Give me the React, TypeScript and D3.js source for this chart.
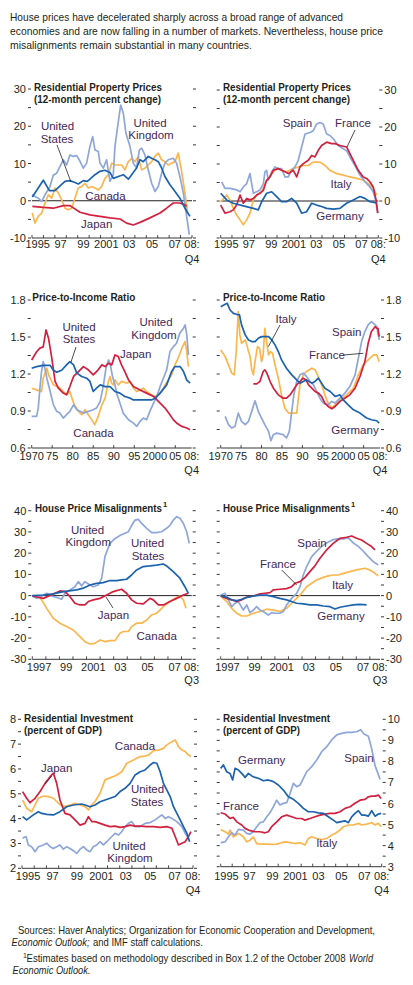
import React from "react";
import * as d3 from "d3";

type Pt = [number, number];

// ---------- Residential property prices (12-month % change) ----------
const rppUnitedStates: Pt[] = [[1995.03,1.0],[1995.99,5.5],[1996.52,2.7],[1997.01,2.7],[1997.45,4.0],[1997.89,5.2],[1998.32,5.4],[1998.76,4.9],[1999.05,4.5],[1999.49,5.4],[1999.84,5.2],[2000.07,5.8],[2000.51,7.0],[2000.95,7.9],[2001.38,8.2],[2001.82,7.6],[2002.11,6.0],[2002.55,6.5],[2002.99,7.0],[2003.43,5.8],[2003.72,7.0],[2004.15,8.8],[2004.45,11.0],[2004.74,10.5],[2005.17,11.9],[2005.47,11.4],[2005.76,11.0],[2006.05,10.5],[2006.34,8.8],[2006.63,6.5],[2007.07,4.3],[2007.51,2.5],[2007.94,0.7],[2008.38,-2.0],[2008.82,-4.2]];
const rppUnitedKingdom: Pt[] = [[1995.0,1.6],[1995.55,0.7],[1995.85,-0.2],[1996.14,1.6],[1996.57,3.8],[1996.87,6.9],[1997.16,7.4],[1997.45,9.2],[1997.74,11.0],[1998.03,9.6],[1998.32,12.3],[1998.62,11.9],[1998.91,12.1],[1999.2,10.6],[1999.49,8.75],[1999.78,10.1],[2000.07,14.6],[2000.31,17.2],[2000.51,13.6],[2000.8,13.2],[2000.95,10.1],[2001.24,8.75],[2001.53,11.0],[2001.82,5.2],[2002.11,7.0],[2002.26,14.6],[2002.55,21.2],[2002.76,25.7],[2002.99,23.5],[2003.22,18.1],[2003.57,14.6],[2003.86,10.1],[2004.15,8.75],[2004.39,13.6],[2004.59,14.1],[2004.88,12.3],[2005.17,8.3],[2005.47,4.7],[2005.76,2.5],[2006.05,3.8],[2006.34,7.4],[2006.63,10.1],[2006.92,11.0],[2007.36,11.4],[2007.65,10.1],[2007.94,6.5],[2008.24,2.1],[2008.53,-4.2],[2008.76,-9.1]];
const rppCanada: Pt[] = [[1995.03,-3.3],[1995.26,-6.0],[1995.55,-4.2],[1995.85,-3.3],[1996.14,-0.6],[1996.43,1.6],[1996.72,0.7],[1997.01,3.4],[1997.3,2.1],[1997.59,0.3],[1997.89,-2.0],[1998.18,-2.4],[1998.47,-2.0],[1998.76,0.7],[1999.05,3.4],[1999.34,3.8],[1999.64,4.7],[1999.93,3.4],[2000.22,3.8],[2000.51,3.4],[2000.8,2.9],[2001.09,3.8],[2001.38,6.0],[2001.68,7.0],[2001.97,10.1],[2002.26,9.6],[2002.55,9.6],[2002.84,9.6],[2003.13,8.3],[2003.43,10.5],[2003.72,11.4],[2004.01,10.5],[2004.3,11.9],[2004.59,8.3],[2004.88,8.75],[2005.17,9.6],[2005.47,10.5],[2005.76,11.9],[2006.05,12.8],[2006.34,11.0],[2006.63,10.5],[2006.92,9.6],[2007.22,10.1],[2007.51,10.5],[2007.8,12.8],[2008.09,7.9],[2008.38,2.1],[2008.62,-3.3]];
const rppJapan: Pt[] = [[1995.03,-1.5],[1995.99,-1.8],[1996.87,-2.0],[1997.74,-1.3],[1998.32,-1.3],[1999.2,-3.1],[2000.07,-3.8],[2000.95,-4.2],[2001.82,-4.6],[2002.7,-4.9],[2003.28,-6.0],[2003.86,-6.5],[2004.45,-5.8],[2005.32,-4.6],[2006.2,-3.3],[2006.78,-2.0],[2007.36,-0.6],[2007.94,-0.6],[2008.38,-1.1],[2008.53,-1.5]];
const rppSpain: Pt[] = [[1995.09,5.2],[1995.38,3.4],[1995.83,3.4],[1996.42,3.0],[1996.72,2.5],[1997.01,3.8],[1997.31,4.7],[1997.6,7.4],[1997.75,4.7],[1997.9,2.1],[1998.2,2.5],[1998.49,3.0],[1998.79,4.7],[1998.93,7.9],[1999.08,8.3],[1999.23,5.6],[1999.53,7.9],[1999.82,9.2],[2000.12,8.75],[2000.41,8.75],[2000.71,6.5],[2001.01,6.5],[2001.3,8.3],[2001.6,9.2],[2001.89,11.0],[2002.19,14.6],[2002.49,18.1],[2002.93,18.5],[2003.22,19.0],[2003.52,20.8],[2003.82,21.2],[2004.11,20.8],[2004.41,18.1],[2004.7,17.7],[2005.0,16.8],[2005.44,15.0],[2005.89,14.1],[2006.18,13.6],[2006.48,11.9],[2006.92,9.6],[2007.37,7.0],[2007.81,5.2],[2008.25,3.8],[2008.55,2.5],[2008.8,-0.2],[2008.95,-3.3]];
const rppFrance: Pt[] = [[1995.0,-1.1],[1995.38,-3.3],[1995.83,-2.9],[1996.12,-2.4],[1996.42,-1.1],[1996.72,1.6],[1997.01,-0.6],[1997.31,0.7],[1997.6,0.3],[1997.9,0.7],[1998.2,1.6],[1998.49,2.1],[1998.79,2.9],[1999.08,5.6],[1999.38,6.5],[1999.67,8.3],[2000.12,8.75],[2000.41,8.3],[2000.71,7.9],[2001.01,7.4],[2001.45,8.3],[2001.75,6.5],[2002.04,9.2],[2002.34,10.1],[2002.78,11.0],[2003.08,12.3],[2003.37,11.9],[2003.67,13.7],[2003.96,15.0],[2004.41,15.9],[2004.85,15.5],[2005.15,15.5],[2005.59,15.0],[2006.18,14.6],[2006.48,12.8],[2006.92,10.1],[2007.22,8.3],[2007.66,6.5],[2007.96,6.1],[2008.25,5.2],[2008.55,3.8],[2008.8,0.3],[2008.95,-3.3]];
const rppItaly: Pt[] = [[1995.0,-0.2],[1995.53,1.6],[1995.83,0.3],[1996.12,-2.0],[1996.42,-3.8],[1996.72,-5.1],[1997.01,-6.4],[1997.31,-5.1],[1997.6,-3.3],[1997.9,0.3],[1998.2,1.6],[1998.64,2.5],[1999.08,5.6],[1999.53,7.4],[1999.97,8.75],[2000.41,8.3],[2000.86,7.9],[2001.45,8.75],[2001.89,9.2],[2002.34,9.6],[2002.78,9.6],[2003.22,10.5],[2003.82,10.5],[2004.26,9.6],[2004.7,8.3],[2005.3,7.4],[2005.89,7.0],[2006.48,6.5],[2007.07,6.1],[2007.66,5.6],[2008.11,4.7],[2008.55,3.4],[2008.85,1.6]];
const rppGermany: Pt[] = [[1995.0,2.1],[1995.53,0.3],[1996.12,-0.6],[1997.01,-1.3],[1997.9,-2.0],[1998.34,-2.4],[1998.64,-0.2],[1999.08,2.1],[1999.53,2.5],[1999.97,1.2],[2000.41,-0.2],[2000.86,-0.2],[2001.3,0.7],[2001.75,-0.6],[2002.19,-3.3],[2002.63,-2.9],[2003.08,-0.6],[2003.52,-1.1],[2003.96,-1.5],[2004.41,-2.0],[2005.0,-2.2],[2005.59,-2.0],[2006.18,-0.6],[2006.78,0.3],[2007.37,1.2],[2007.81,0.7],[2008.25,-0.2],[2008.85,-0.5]];

// ---------- Price-to-income ratio ----------
const ptiUnitedStates: Pt[] = [[1970,1.247],[1971.2,1.26],[1972.8,1.27],[1974.5,1.27],[1975.3,1.23],[1976.1,1.215],[1977.3,1.23],[1978.5,1.274],[1979.3,1.3],[1980.2,1.274],[1981.0,1.207],[1982.2,1.18],[1983.4,1.166],[1984.2,1.14],[1985.0,1.058],[1985.8,1.085],[1986.7,1.112],[1987.9,1.098],[1989.1,1.098],[1990.3,1.058],[1991.5,1.045],[1992.7,1.018],[1994.0,1.004],[1994.8,0.99],[1996.4,0.99],[1998.0,0.99],[1999.2,0.99],[2000.1,1.004],[2001.3,1.045],[2002.9,1.112],[2004.1,1.22],[2004.9,1.26],[2006.2,1.26],[2007.0,1.22],[2007.8,1.15],[2008.6,1.126]];
const ptiJapan: Pt[] = [[1970,1.314],[1971.2,1.38],[1972.0,1.41],[1972.8,1.42],[1973.5,1.557],[1974.1,1.49],[1974.9,1.328],[1975.7,1.14],[1976.5,1.085],[1977.7,1.045],[1978.5,1.031],[1979.3,1.098],[1980.2,1.18],[1981.4,1.22],[1982.6,1.26],[1983.8,1.234],[1985.0,1.193],[1986.2,1.234],[1987.1,1.274],[1987.9,1.26],[1988.7,1.287],[1989.5,1.274],[1990.3,1.355],[1991.1,1.341],[1991.9,1.274],[1992.7,1.22],[1993.6,1.152],[1994.8,1.098],[1996.4,1.071],[1998.0,1.045],[1999.7,1.018],[2001.3,0.964],[2002.5,0.924],[2003.7,0.87],[2004.5,0.83],[2005.3,0.803],[2006.6,0.775],[2007.8,0.762],[2008.6,0.748]];
const ptiUnitedKingdom: Pt[] = [[1970,0.856],[1971.2,0.856],[1971.6,0.924],[1972.0,1.085],[1972.4,1.22],[1972.8,1.301],[1973.2,1.247],[1973.7,1.166],[1974.5,1.058],[1975.3,0.95],[1976.1,0.897],[1976.9,0.883],[1977.7,0.843],[1978.5,0.87],[1979.3,0.897],[1980.2,0.95],[1981.0,0.91],[1981.8,0.897],[1982.6,0.883],[1983.8,0.897],[1985.0,0.91],[1985.8,0.924],[1986.7,0.978],[1987.5,1.112],[1988.1,1.247],[1988.7,1.314],[1989.1,1.287],[1989.7,1.179],[1990.3,1.112],[1990.7,1.045],[1991.5,0.964],[1992.3,0.883],[1993.6,0.829],[1994.8,0.802],[1995.6,0.775],[1996.4,0.816],[1997.2,0.843],[1998.0,0.829],[1998.8,0.897],[1999.7,0.964],[2000.5,1.018],[2001.3,1.098],[2002.1,1.166],[2002.9,1.234],[2003.7,1.382],[2004.5,1.42],[2005.3,1.449],[2006.1,1.53],[2007.0,1.571],[2007.4,1.598],[2007.8,1.517],[2008.2,1.355]];
const ptiCanada: Pt[] = [[1970,1.085],[1971.2,1.071],[1972.4,1.058],[1972.8,1.166],[1973.7,1.247],[1974.1,1.193],[1974.5,1.166],[1975.3,1.112],[1976.1,1.098],[1976.9,1.085],[1977.7,1.058],[1978.5,1.031],[1979.3,1.058],[1980.2,0.964],[1981.4,0.897],[1982.2,0.87],[1983.0,0.91],[1983.8,0.87],[1984.6,0.83],[1985.4,0.789],[1986.2,0.856],[1987.1,0.95],[1987.9,1.004],[1988.7,1.14],[1989.1,1.179],[1989.5,1.125],[1989.9,1.112],[1990.3,1.152],[1991.1,1.112],[1991.9,1.14],[1993.2,1.125],[1994.0,1.14],[1994.8,1.085],[1995.6,1.058],[1996.4,1.071],[1997.2,1.085],[1998.0,1.058],[1999.2,1.031],[2000.1,1.018],[2000.9,1.031],[2001.7,1.058],[2002.5,1.112],[2003.3,1.152],[2004.1,1.193],[2004.9,1.274],[2005.7,1.328],[2006.6,1.409],[2007.4,1.463],[2007.8,1.382],[2008.2,1.26]];
const ptiGermany: Pt[] = [[1970,1.746],[1971.1,1.765],[1971.6,1.773],[1972.3,1.719],[1973.1,1.692],[1973.9,1.684],[1974.6,1.679],[1975.1,1.598],[1976.0,1.517],[1976.8,1.476],[1977.6,1.463],[1978.4,1.463],[1979.2,1.49],[1980.0,1.503],[1980.8,1.503],[1981.7,1.503],[1982.5,1.476],[1983.3,1.436],[1984.1,1.382],[1984.9,1.314],[1986.1,1.247],[1987.4,1.193],[1988.6,1.152],[1989.4,1.126],[1990.2,1.14],[1991.0,1.152],[1992.3,1.126],[1993.1,1.14],[1993.9,1.166],[1994.7,1.126],[1995.5,1.085],[1996.8,1.058],[1998.0,1.018],[1999.2,1.031],[2000.0,0.99],[2001.2,0.95],[2002.5,0.91],[2004.1,0.883],[2005.7,0.843],[2006.9,0.829],[2008.2,0.821],[2008.8,0.802]];
const ptiItaly: Pt[] = [[1970,1.395],[1971.1,1.341],[1971.9,1.274],[1972.7,1.207],[1973.3,1.193],[1973.8,1.382],[1974.3,1.706],[1974.7,1.517],[1975.1,1.449],[1976.0,1.476],[1976.4,1.436],[1976.8,1.382],[1977.2,1.341],[1977.6,1.234],[1978.0,1.193],[1978.4,1.301],[1979.0,1.422],[1979.5,1.409],[1980.0,1.301],[1980.4,1.355],[1980.8,1.57],[1981.3,1.449],[1981.7,1.355],[1982.2,1.382],[1982.7,1.368],[1983.3,1.274],[1984.1,1.166],[1984.9,1.031],[1985.7,0.924],[1986.6,0.883],[1987.4,0.883],[1988.6,0.883],[1989.4,1.112],[1990.2,1.193],[1991.0,1.22],[1992.3,1.247],[1993.1,1.234],[1993.9,1.179],[1994.7,1.112],[1995.5,1.031],[1996.3,0.964],[1997.2,0.924],[1998.0,0.95],[1999.2,0.99],[2000.8,1.031],[2002.5,1.085],[2003.7,1.193],[2004.9,1.274],[2006.1,1.314],[2007.4,1.355],[2008.2,1.355],[2008.8,1.3]];
const ptiFrance: Pt[] = [[1978.0,1.12],[1978.8,1.12],[1979.6,1.139],[1980.4,1.22],[1980.8,1.234],[1981.3,1.207],[1982.1,1.139],[1982.9,1.085],[1984.1,1.031],[1985.3,1.004],[1986.1,1.004],[1987.0,1.031],[1987.8,1.071],[1988.6,1.112],[1989.4,1.139],[1990.2,1.166],[1990.9,1.152],[1991.5,1.112],[1992.3,1.085],[1993.1,1.058],[1993.9,1.045],[1994.7,1.018],[1995.5,0.964],[1996.3,0.937],[1997.2,0.918],[1998.0,0.937],[1999.2,0.978],[2000.4,1.004],[2001.6,1.031],[2002.9,1.085],[2004.1,1.18],[2005.3,1.301],[2006.1,1.449],[2006.9,1.544],[2007.8,1.584],[2008.2,1.571],[2008.5,1.571],[2008.8,1.503]];
const ptiSpain: Pt[] = [[1971.1,0.856],[1971.9,0.789],[1972.7,0.762],[1973.5,0.775],[1974.3,0.883],[1975.1,0.816],[1976.0,0.789],[1976.8,0.816],[1977.6,0.897],[1978.4,0.983],[1979.2,0.897],[1980.0,0.843],[1980.8,0.789],[1981.7,0.735],[1982.3,0.659],[1982.9,0.708],[1983.7,0.721],[1984.5,0.714],[1985.3,0.708],[1986.1,0.681],[1986.8,0.735],[1987.4,0.897],[1987.9,1.031],[1988.6,1.139],[1989.4,1.193],[1990.2,1.207],[1991.0,1.18],[1991.9,1.139],[1992.7,1.112],[1993.5,1.058],[1994.3,1.004],[1995.1,0.964],[1996.3,0.95],[1997.2,0.978],[1998.0,0.964],[1999.2,1.004],[2000.4,1.045],[2001.6,1.098],[2002.9,1.193],[2003.7,1.328],[2004.5,1.463],[2005.3,1.544],[2006.1,1.598],[2006.9,1.625],[2007.8,1.598],[2008.2,1.584],[2008.8,1.476]];

// ---------- House price misalignments ----------
const hpmUnitedKingdom: Pt[] = [[1997.0,-0.2],[1997.32,-1.3],[1997.69,-0.2],[1998.06,1.1],[1998.43,-0.2],[1998.79,-0.8],[1999.16,-1.7],[1999.41,1.1],[1999.78,2.7],[2000.14,4.2],[2000.39,6.6],[2000.64,4.6],[2000.88,6.6],[2001.25,5.0],[2001.5,4.2],[2001.86,5.0],[2002.11,8.0],[2002.36,18.5],[2002.72,24.6],[2003.09,26.8],[2003.46,28.3],[2003.83,29.4],[2004.08,30.1],[2004.32,33.0],[2004.57,35.6],[2004.81,35.9],[2005.06,34.0],[2005.43,31.7],[2005.8,29.7],[2006.16,29.7],[2006.53,30.1],[2006.9,31.7],[2007.15,33.1],[2007.39,35.6],[2007.64,37.2],[2007.88,36.4],[2008.13,34.1],[2008.38,30.1],[2008.57,24.6]];
const hpmUnitedStates: Pt[] = [[1997.0,0],[1997.81,0.3],[1998.55,0.8],[1999.29,1.9],[2000.27,2.7],[2000.76,3.5],[2001.25,5.0],[2001.74,5.8],[2002.23,6.1],[2002.72,7.1],[2003.22,7.1],[2003.58,7.4],[2003.95,7.7],[2004.32,9.7],[2004.69,12.1],[2005.18,13.7],[2005.67,14.0],[2006.16,14.4],[2006.66,14.9],[2006.9,14.0],[2007.39,11.3],[2007.88,8.2],[2008.25,4.2],[2008.5,1.1]];
const hpmJapan: Pt[] = [[1997.0,-0.2],[1997.81,-1.3],[1998.55,0.8],[1999.04,2.2],[1999.41,1.9],[1999.78,-0.5],[2000.14,-3.6],[2000.51,-4.4],[2000.88,-4.4],[2001.13,-2.8],[2001.5,-2.0],[2001.99,-1.3],[2002.48,0.3],[2002.97,1.9],[2003.58,3.0],[2003.95,1.1],[2004.32,-2.0],[2004.69,-3.6],[2005.18,-3.9],[2005.67,-1.3],[2005.92,-2.0],[2006.29,-4.4],[2006.66,-4.4],[2007.15,-2.8],[2007.64,-1.3],[2008.13,0.3],[2008.5,1.1]];
const hpmCanada: Pt[] = [[1997.0,-0.2],[1997.44,-0.5],[1997.69,-2.0],[1998.06,-6.0],[1998.55,-10.7],[1999.04,-13.0],[1999.53,-14.6],[2000.02,-16.2],[2000.51,-19.3],[2000.88,-21.7],[2001.25,-22.8],[2001.62,-22.5],[2001.99,-20.9],[2002.36,-21.7],[2002.72,-21.2],[2003.09,-21.2],[2003.46,-17.7],[2003.71,-16.9],[2004.08,-16.9],[2004.32,-14.6],[2004.69,-13.0],[2005.06,-13.0],[2005.43,-11.5],[2005.8,-9.1],[2006.16,-8.3],[2006.41,-6.8],[2006.78,-4.4],[2007.15,-2.8],[2007.52,-1.3],[2007.88,-0.2],[2008.13,-2.0],[2008.33,-6.0]];
const hpmSpain: Pt[] = [[1997.0,0.3],[1997.32,1.1],[1997.57,-2.0],[1997.81,-5.2],[1998.06,-3.6],[1998.3,-2.8],[1998.67,-6.8],[1998.92,-4.4],[1999.16,-8.0],[1999.41,-6.8],[1999.65,-5.2],[1999.9,-6.8],[2000.14,-7.5],[2000.51,-9.1],[2000.76,-8.0],[2001.0,-8.3],[2001.37,-8.3],[2001.62,-7.5],[2001.86,-4.4],[2002.23,-1.3],[2002.6,1.1],[2002.85,4.2],[2003.09,9.7],[2003.34,13.7],[2003.71,18.4],[2004.08,20.9],[2004.44,23.2],[2004.81,24.8],[2005.3,26.4],[2005.67,26.7],[2006.04,26.7],[2006.41,27.2],[2006.78,24.8],[2007.15,23.2],[2007.52,20.9],[2007.88,18.4],[2008.25,16.0],[2008.62,14.4]];
const hpmFrance: Pt[] = [[1997.0,-0.2],[1997.44,-1.3],[1997.81,-2.0],[1998.18,-2.8],[1998.55,-2.0],[1998.92,-0.8],[1999.41,-0.2],[1999.9,0.8],[2000.27,1.1],[2000.64,1.4],[2000.88,2.7],[2001.37,3.0],[2001.86,3.3],[2002.23,4.2],[2002.48,5.8],[2002.85,6.6],[2003.22,8.6],[2003.58,11.3],[2003.95,14.0],[2004.32,17.6],[2004.81,21.5],[2005.3,24.6],[2005.8,27.0],[2006.29,27.5],[2006.66,28.1],[2007.02,27.0],[2007.39,26.2],[2007.76,24.6],[2008.13,23.1],[2008.38,21.5]];
const hpmItaly: Pt[] = [[1997.0,-0.2],[1997.44,-2.8],[1997.81,-6.0],[1998.18,-8.3],[1998.55,-9.6],[1998.92,-9.6],[1999.41,-8.3],[1999.9,-7.5],[2000.39,-6.4],[2000.88,-6.8],[2001.37,-7.5],[2001.86,-6.0],[2002.23,-3.6],[2002.6,-1.3],[2002.97,1.1],[2003.34,4.2],[2003.71,5.8],[2004.08,7.4],[2004.57,8.6],[2004.94,9.3],[2005.3,9.7],[2005.67,9.7],[2006.04,10.5],[2006.53,11.3],[2007.02,12.1],[2007.64,12.9],[2008.0,12.1],[2008.38,10.5],[2008.62,9.3]];
const hpmGermany: Pt[] = [[1997.0,0],[1997.44,-0.8],[1997.81,-2.0],[1998.18,-2.4],[1998.55,-1.7],[1998.92,-0.8],[1999.41,-0.2],[1999.9,0.2],[2000.39,0.2],[2000.88,-0.5],[2001.37,-1.3],[2001.86,-2.0],[2002.23,-2.8],[2002.6,-3.6],[2003.09,-3.9],[2003.58,-4.4],[2004.08,-4.4],[2004.57,-4.9],[2005.06,-5.2],[2005.43,-6.3],[2005.8,-5.5],[2006.29,-4.9],[2006.78,-4.4],[2007.27,-4.1],[2007.76,-4.4]];

// ---------- Residential investment (percent of GDP) ----------
const riCanada: Pt[] = [[1995.05,4.75],[1995.38,4.42],[1995.79,4.28],[1996.07,4.55],[1996.34,4.82],[1996.75,4.91],[1997.16,4.89],[1997.57,4.82],[1997.98,4.62],[1998.39,4.48],[1998.93,4.55],[1999.34,4.62],[1999.75,4.55],[2000.16,4.48],[2000.44,4.35],[2000.71,4.55],[2000.98,4.69],[2001.39,5.02],[2001.8,5.56],[2002.08,5.62],[2002.49,5.7],[2002.76,5.76],[2003.17,5.89],[2003.58,6.23],[2004.13,6.36],[2004.67,6.5],[2005.08,6.52],[2005.36,6.56],[2005.77,6.74],[2006.17,6.76],[2006.58,6.83],[2006.86,6.97],[2007.27,7.1],[2007.54,7.17],[2007.81,6.9],[2008.09,6.76],[2008.36,6.7],[2008.63,6.56],[2008.83,6.5]];
const riUnitedStates: Pt[] = [[1995.05,4.08],[1995.38,3.95],[1995.93,4.15],[1996.34,4.28],[1996.61,4.21],[1997.02,4.17],[1997.57,4.15],[1998.11,4.28],[1998.66,4.48],[1999.21,4.55],[1999.89,4.59],[2000.16,4.55],[2000.57,4.48],[2000.98,4.55],[2001.39,4.68],[2001.8,4.75],[2002.21,4.82],[2002.62,4.89],[2003.03,5.09],[2003.44,5.22],[2003.85,5.42],[2004.26,5.76],[2004.67,5.89],[2005.08,5.96],[2005.49,6.16],[2005.77,6.26],[2006.04,6.23],[2006.31,5.89],[2006.58,5.42],[2006.86,5.15],[2007.13,4.89],[2007.4,4.48],[2007.68,4.21],[2007.95,3.95],[2008.22,3.68],[2008.5,3.41],[2008.72,3.07]];
const riJapan: Pt[] = [[1995.05,5.09],[1995.38,4.82],[1995.66,4.64],[1996.07,4.82],[1996.48,5.09],[1996.89,5.42],[1997.3,5.69],[1997.57,5.83],[1997.84,5.42],[1998.11,4.75],[1998.52,4.21],[1998.93,4.15],[1999.34,3.95],[1999.75,3.74],[2000.16,3.81],[2000.44,4.08],[2000.71,3.88],[2000.98,3.88],[2001.39,3.81],[2001.8,3.74],[2002.21,3.68],[2002.62,3.7],[2003.03,3.65],[2003.44,3.68],[2003.85,3.74],[2004.26,3.7],[2004.67,3.7],[2005.22,3.68],[2005.77,3.68],[2006.31,3.65],[2006.86,3.68],[2007.27,3.61],[2007.54,3.28],[2007.81,2.94],[2008.09,3.01],[2008.36,3.07],[2008.63,3.28],[2008.83,3.48]];
const riUnitedKingdom: Pt[] = [[1995.05,3.21],[1995.33,3.28],[1995.52,2.94],[1995.79,2.87],[1996.07,2.67],[1996.34,2.87],[1996.75,2.94],[1997.02,3.01],[1997.3,2.87],[1997.57,2.8],[1997.84,2.87],[1998.11,2.94],[1998.39,2.77],[1998.66,2.87],[1998.93,2.8],[1999.21,2.71],[1999.48,2.6],[1999.75,2.77],[2000.03,2.87],[2000.3,2.74],[2000.57,2.67],[2000.84,2.87],[2001.12,2.94],[2001.39,3.07],[2001.66,2.94],[2001.94,3.07],[2002.35,3.28],[2002.62,3.41],[2002.9,3.34],[2003.17,3.48],[2003.44,3.68],[2003.72,3.81],[2003.99,3.88],[2004.26,3.68],[2004.67,3.68],[2005.08,3.81],[2005.49,3.84],[2005.9,3.95],[2006.17,4.05],[2006.45,4.15],[2006.72,4.01],[2006.99,4.08],[2007.27,4.01],[2007.68,3.88],[2008.09,3.68],[2008.36,3.41],[2008.63,3.21]];
const riGermany: Pt[] = [[1995.0,7.67],[1995.23,7.83],[1995.52,7.51],[1995.81,7.43],[1996.04,7.12],[1996.25,7.67],[1996.54,7.59],[1996.83,7.43],[1997.12,7.24],[1997.41,7.43],[1997.7,7.31],[1997.99,7.24],[1998.28,7.2],[1998.71,7.08],[1999.14,7.12],[1999.58,7.04],[2000.01,6.88],[2000.45,6.64],[2000.88,6.32],[2001.32,6.2],[2001.75,6.01],[2002.19,5.77],[2002.62,5.61],[2003.06,5.61],[2003.49,5.56],[2003.93,5.53],[2004.36,5.37],[2004.8,5.21],[2005.09,5.09],[2005.38,5.13],[2005.81,5.18],[2006.1,5.09],[2006.39,5.37],[2006.68,5.53],[2006.97,5.66],[2007.26,5.45],[2007.55,5.45],[2007.84,5.4],[2008.13,5.66],[2008.42,5.4],[2008.71,5.5],[2008.95,5.53]];
const riFrance: Pt[] = [[1995.0,5.56],[1995.38,5.5],[1995.81,5.29],[1996.1,5.34],[1996.39,5.13],[1996.83,4.98],[1997.12,4.82],[1997.55,4.71],[1997.99,4.66],[1998.42,4.66],[1998.86,4.61],[1999.14,4.66],[1999.43,4.9],[1999.87,5.13],[2000.3,5.37],[2000.74,5.45],[2001.17,5.37],[2001.61,5.29],[2002.04,5.29],[2002.33,5.21],[2002.77,5.29],[2003.2,5.37],[2003.64,5.45],[2004.07,5.5],[2004.51,5.53],[2004.94,5.53],[2005.38,5.61],[2005.81,5.77],[2006.25,5.85],[2006.68,6.01],[2007.12,6.16],[2007.55,6.2],[2007.84,6.32],[2008.13,6.35],[2008.42,6.35],[2008.71,6.4],[2008.95,6.24]];
const riSpain: Pt[] = [[1995.0,4.14],[1995.38,4.18],[1995.67,4.42],[1995.96,4.61],[1996.25,4.5],[1996.54,4.77],[1996.97,4.74],[1997.26,4.58],[1997.55,4.55],[1997.84,4.66],[1998.13,4.9],[1998.42,5.09],[1998.71,5.13],[1999.0,5.37],[1999.29,5.56],[1999.58,5.85],[1999.87,6.16],[2000.16,5.93],[2000.45,6.01],[2000.74,6.04],[2001.03,6.48],[2001.32,6.96],[2001.61,6.8],[2001.9,6.88],[2002.19,7.2],[2002.48,7.51],[2002.91,7.75],[2003.35,8.07],[2003.78,8.46],[2004.22,8.7],[2004.65,9.02],[2005.09,9.26],[2005.52,9.33],[2005.96,9.38],[2006.39,9.38],[2006.83,9.41],[2007.17,9.5],[2007.46,9.3],[2007.84,9.2],[2008.13,8.6],[2008.42,7.8],[2008.86,7.15]];
const riItaly: Pt[] = [[1995.0,4.77],[1995.38,4.66],[1995.67,4.55],[1995.81,4.74],[1996.1,4.42],[1996.54,4.58],[1996.97,4.42],[1997.26,4.18],[1997.55,4.26],[1997.84,4.42],[1998.13,4.1],[1998.57,4.07],[1999.0,4.07],[1999.43,4.06],[1999.87,4.07],[2000.3,4.14],[2000.59,4.18],[2001.03,4.14],[2001.46,4.1],[2001.9,4.14],[2002.33,4.03],[2002.62,4.34],[2002.91,4.42],[2003.35,4.34],[2003.78,4.29],[2004.22,4.34],[2004.65,4.5],[2004.94,4.58],[2005.38,4.74],[2005.67,4.9],[2006.1,4.98],[2006.54,4.98],[2006.97,5.06],[2007.26,4.98],[2007.7,5.02],[2008.13,5.09],[2008.42,4.98],[2008.71,5.06],[2008.95,4.9]];

// ---------- Tick labels ----------
const yearLabels9508 = ["1995", "97", "99", "2001", "03", "05", "07"];
const yearPos9508 = [1995, 1997, 1999, 2001, 2003, 2005, 2007];
const yearLabels7008 = ["1970", "75", "80", "85", "90", "95", "2000", "05"];
const yearPos7008 = [1970, 1975, 1980, 1985, 1990, 1995, 2000, 2005];
const yearLabels9708 = ["1997", "99", "2001", "03", "05", "07"];
const yearPos9708 = [1997, 1999, 2001, 2003, 2005, 2007];
const rppYTicks = [-10, 0, 10, 20, 30];
const ptiYTicks = [0.6, 0.9, 1.2, 1.5, 1.8];
const hpmYTicks = [-30, -20, -10, 0, 10, 20, 30, 40];
const riLeftYTicks = [2, 3, 4, 5, 6, 7, 8];
const riRightYTicks = [3, 4, 5, 6, 7, 8, 9, 10];

const BLUE = "#1c63ad";
const LIGHT = "#8ea6da";
const ORANGE = "#fbb64e";
const RED = "#d2203f";
const INK = "#231f20";
const LBL = "#43285a";
const FONT = "'Liberation Sans Narrow','Arial Narrow','Liberation Sans',Arial,sans-serif";

interface TextItem { t: string; x: number; y: number; }
interface PanelProps {
  x0: number; x1: number; yTop: number; yBot: number;
  xDomain: [number, number]; yDomain: [number, number];
  side: "left" | "right";
  yLabels: number[]; yMinorStep: number; fmt: (v: number) => string;
  xTicks: number[]; xLabelTexts: string[]; xLabelYears: number[]; xLabelShift: number;
  endQ: string; labY: number; qY: number; zero?: boolean;
  series: { data: Pt[]; color: string }[];
  labels: TextItem[]; pointers: [number, number, number, number][];
}

function Panel(p: PanelProps) {
  const x = d3.scaleLinear().domain(p.xDomain).range([p.x0, p.x1]);
  const y = d3.scaleLinear().domain(p.yDomain).range([p.yBot, p.yTop]);
  const line = d3.line<Pt>().x(d => x(d[0])).y(d => y(d[1]));
  const minor = d3.range(p.yDomain[0], p.yDomain[1] + 1e-6, p.yMinorStep);
  return (
    <g>
      {p.zero && <line x1={p.x0} x2={p.x1} y1={y(0)} y2={y(0)} stroke={INK} strokeWidth={1} />}
      {p.series.map((s, i) => (
        <path key={i} d={line(s.data) || ""} fill="none" stroke={s.color} strokeWidth={1.7} strokeLinejoin="round" />
      ))}
      <line x1={p.x0} x2={p.x1} y1={p.yBot} y2={p.yBot} stroke={INK} strokeWidth={0.9} />
      {p.xTicks.map((t, i) => (
        <line key={i} x1={x(t)} x2={x(t)} y1={p.yBot} y2={p.yBot - 3} stroke={INK} strokeWidth={0.8} />
      ))}
      {minor.map((v, i) => (
        <g key={i}>
          <line x1={p.x0 - 4} x2={p.x0 - 1} y1={y(v)} y2={y(v)} stroke={INK} strokeWidth={0.9} />
          <line x1={p.x1 + 1} x2={p.x1 + 4} y1={y(v)} y2={y(v)} stroke={INK} strokeWidth={0.9} />
        </g>
      ))}
      {p.yLabels.map((v, i) => (
        <text key={i} x={p.side === "left" ? p.x0 - 6 : p.x1 + 6} y={y(v) + 4}
          textAnchor={p.side === "left" ? "end" : "start"} fontSize={11} fill={INK}>{p.fmt(v)}</text>
      ))}
      {p.xLabelTexts.map((t, i) => (
        <text key={i} x={x(p.xLabelYears[i] + p.xLabelShift)} y={p.labY} textAnchor="middle" fontSize={11} fill={INK}>{t}</text>
      ))}
      <text x={p.x1} y={p.labY} textAnchor="middle" fontSize={11} fill={INK}>08:</text>
      <text x={p.x1} y={p.qY} textAnchor="middle" fontSize={11} fill={INK}>{p.endQ}</text>
      {p.labels.map((l, i) => (
        <text key={i} x={l.x} y={l.y} textAnchor="middle" fontSize={11.5} fill={LBL}>{l.t}</text>
      ))}
      {p.pointers.map((q, i) => (
        <line key={i} x1={q[0]} y1={q[1]} x2={q[2]} y2={q[3]} stroke={INK} strokeWidth={0.8} />
      ))}
    </g>
  );
}

function Title({ t, x, y, w, sup }: { t: string; x: number; y: number; w: number; sup?: boolean }) {
  return (
    <text x={x} y={y} fontSize={11.5} fontWeight="bold" fill={INK}>
      <tspan textLength={w} lengthAdjust="spacingAndGlyphs">{t}</tspan>
      {sup && <tspan dx={1} dy={-5} fontSize={7.5}>1</tspan>}
    </text>
  );
}

export default function App() {
  const f0 = (v: number) => String(v);
  const f1 = (v: number) => v.toFixed(1);
  const years9509 = d3.range(1995, 2010);
  const years7009 = d3.range(1970, 2010, 5);
  const years9708 = d3.range(1997, 2009);
  return (
    <svg width={413} height={985} style={{ position: "absolute", left: 0, top: 0, background: "#fff" }} fontFamily={FONT}>
      <rect x={0} y={0} width={413} height={985} fill="#fff" />
      {/* header */}
      <g fontSize={11} fill={INK}>
        <text x={10} y={20.5} textLength={333} lengthAdjust="spacingAndGlyphs">House prices have decelerated sharply across a broad range of advanced</text>
        <text x={10} y={35} textLength={373} lengthAdjust="spacingAndGlyphs">economies and are now falling in a number of markets. Nevertheless, house price</text>
        <text x={10} y={48.5} textLength={242} lengthAdjust="spacingAndGlyphs">misalignments remain substantial in many countries.</text>
      </g>

      {/* Row 1 */}
      <Panel x0={32} x1={192} yTop={89} yBot={238} xDomain={[1995, 2009]} yDomain={[-10, 30]} side="left"
        yLabels={rppYTicks} yMinorStep={5} fmt={f0} xTicks={years9509} xLabelTexts={yearLabels9508} xLabelYears={yearPos9508} xLabelShift={0.5}
        endQ="Q4" labY={248} qY={263} zero
        series={[{ data: rppCanada, color: ORANGE }, { data: rppUnitedKingdom, color: LIGHT }, { data: rppJapan, color: RED }, { data: rppUnitedStates, color: BLUE }]}
        labels={[{ t: "United", x: 57.5, y: 130 }, { t: "States", x: 57, y: 143 }, { t: "United", x: 150, y: 127 }, { t: "Kingdom", x: 151, y: 139 }, { t: "Canada", x: 105.5, y: 200 }, { t: "Japan", x: 96.7, y: 228 }]}
        pointers={[[57, 145, 71, 182]]} />
      <Title t="Residential Property Prices" x={34} y={91} w={128} />
      <Title t="(12-month percent change)" x={34} y={102.5} w={127} />
      <Panel x0={220.7} x1={378.3} yTop={90} yBot={238} xDomain={[1995, 2009]} yDomain={[-10, 30]} side="right"
        yLabels={rppYTicks} yMinorStep={5} fmt={f0} xTicks={years9509} xLabelTexts={yearLabels9508} xLabelYears={yearPos9508} xLabelShift={0.5}
        endQ="Q4" labY={248} qY={263} zero
        series={[{ data: rppItaly, color: ORANGE }, { data: rppSpain, color: LIGHT }, { data: rppFrance, color: RED }, { data: rppGermany, color: BLUE }]}
        labels={[{ t: "Spain", x: 297.5, y: 127 }, { t: "France", x: 353, y: 127 }, { t: "Italy", x: 341, y: 188 }, { t: "Germany", x: 340, y: 220 }]}
        pointers={[[355, 130, 347, 147]]} />
      <Title t="Residential Property Prices" x={223} y={91} w={128} />
      <Title t="(12-month percent change)" x={223} y={102.5} w={127} />

      {/* Row 2 */}
      <Panel x0={31.7} x1={191.7} yTop={300} yBot={448} xDomain={[1970, 2009]} yDomain={[0.6, 1.8]} side="left"
        yLabels={ptiYTicks} yMinorStep={0.15} fmt={f1} xTicks={years7009} xLabelTexts={yearLabels7008} xLabelYears={yearPos7008} xLabelShift={0}
        endQ="Q4" labY={460} qY={474}
        series={[{ data: ptiCanada, color: ORANGE }, { data: ptiUnitedKingdom, color: LIGHT }, { data: ptiJapan, color: RED }, { data: ptiUnitedStates, color: BLUE }]}
        labels={[{ t: "United", x: 79, y: 331 }, { t: "States", x: 79, y: 343 }, { t: "United", x: 156, y: 326 }, { t: "Kingdom", x: 154, y: 339 }, { t: "Japan", x: 135.7, y: 358 }, { t: "Canada", x: 93.5, y: 437 }]}
        pointers={[[76, 347, 71, 362]]} />
      <Title t="Price-to-Income Ratio" x={32.3} y={301} w={103} />
      <Panel x0={220.7} x1={380} yTop={300} yBot={448} xDomain={[1970, 2009]} yDomain={[0.6, 1.8]} side="right"
        yLabels={ptiYTicks} yMinorStep={0.15} fmt={f1} xTicks={years7009} xLabelTexts={yearLabels7008} xLabelYears={yearPos7008} xLabelShift={0}
        endQ="Q4" labY={460} qY={474}
        series={[{ data: ptiItaly, color: ORANGE }, { data: ptiSpain, color: LIGHT }, { data: ptiFrance, color: RED }, { data: ptiGermany, color: BLUE }]}
        labels={[{ t: "Italy", x: 286, y: 323 }, { t: "Spain", x: 346.7, y: 336 }, { t: "France", x: 327, y: 359 }, { t: "Germany", x: 355, y: 434 }]}
        pointers={[[280, 325, 268.3, 346.7], [343.3, 355, 363.3, 353.3]]} />
      <Title t="Price-to-Income Ratio" x={223} y={301} w={102} />

      {/* Row 3 */}
      <Panel x0={32.3} x1={191.7} yTop={510.7} yBot={659.3} xDomain={[1997, 2008.75]} yDomain={[-30, 40]} side="left"
        yLabels={hpmYTicks} yMinorStep={5} fmt={f0} xTicks={years9708} xLabelTexts={yearLabels9708} xLabelYears={yearPos9708} xLabelShift={0.5}
        endQ="Q3" labY={670.5} qY={684} zero
        series={[{ data: hpmCanada, color: ORANGE }, { data: hpmUnitedKingdom, color: LIGHT }, { data: hpmJapan, color: RED }, { data: hpmUnitedStates, color: BLUE }]}
        labels={[{ t: "United", x: 87.5, y: 534 }, { t: "Kingdom", x: 88.3, y: 546 }, { t: "United", x: 147.5, y: 547 }, { t: "States", x: 148, y: 560 }, { t: "Japan", x: 113.5, y: 619 }, { t: "Canada", x: 156.7, y: 640 }]}
        pointers={[[113, 608, 106, 597]]} />
      <Title t="House Price Misalignments" x={35} y={512} w={127} sup />
      <Panel x0={220.7} x1={380} yTop={510.7} yBot={659.3} xDomain={[1997, 2008.75]} yDomain={[-30, 40]} side="right"
        yLabels={hpmYTicks} yMinorStep={5} fmt={f0} xTicks={years9708} xLabelTexts={yearLabels9708} xLabelYears={yearPos9708} xLabelShift={0.5}
        endQ="Q3" labY={670.5} qY={684} zero
        series={[{ data: hpmItaly, color: ORANGE }, { data: hpmSpain, color: LIGHT }, { data: hpmFrance, color: RED }, { data: hpmGermany, color: BLUE }]}
        labels={[{ t: "Spain", x: 312, y: 547 }, { t: "France", x: 278, y: 568 }, { t: "Italy", x: 342.5, y: 589 }, { t: "Germany", x: 341, y: 620 }]}
        pointers={[[281.7, 570, 296.7, 585]]} />
      <Title t="House Price Misalignments" x={223} y={512} w={127} sup />

      {/* Row 4 */}
      <Panel x0={22} x1={193} yTop={719.3} yBot={868.3} xDomain={[1995, 2009]} yDomain={[2, 8]} side="left"
        yLabels={riLeftYTicks} yMinorStep={0.5} fmt={f0} xTicks={years9509} xLabelTexts={yearLabels9508} xLabelYears={yearPos9508} xLabelShift={0.5}
        endQ="Q4" labY={880} qY={894}
        series={[{ data: riCanada, color: ORANGE }, { data: riUnitedKingdom, color: LIGHT }, { data: riJapan, color: RED }, { data: riUnitedStates, color: BLUE }]}
        labels={[{ t: "Canada", x: 135, y: 750 }, { t: "Japan", x: 56.7, y: 772 }, { t: "United", x: 147.5, y: 793 }, { t: "States", x: 147, y: 806 }, { t: "United", x: 129, y: 850 }, { t: "Kingdom", x: 130, y: 862 }]}
        pointers={[[51.7, 776, 45, 784]]} />
      <Title t="Residential Investment" x={24} y={721.5} w={109} />
      <Title t="(percent of GDP)" x={24} y={734} w={78} />
      <Panel x0={220.7} x1={381.7} yTop={719.3} yBot={866.7} xDomain={[1995, 2009]} yDomain={[3, 10]} side="right"
        yLabels={riRightYTicks} yMinorStep={0.5} fmt={f0} xTicks={years9509} xLabelTexts={yearLabels9508} xLabelYears={yearPos9508} xLabelShift={0.5}
        endQ="Q4" labY={880} qY={894}
        series={[{ data: riItaly, color: ORANGE }, { data: riSpain, color: LIGHT }, { data: riFrance, color: RED }, { data: riGermany, color: BLUE }]}
        labels={[{ t: "Germany", x: 261.7, y: 764 }, { t: "France", x: 241, y: 810 }, { t: "Spain", x: 359, y: 762 }, { t: "Italy", x: 326.7, y: 847 }]}
        pointers={[]} />
      <Title t="Residential Investment" x={223} y={721.5} w={107} />
      <Title t="(percent of GDP)" x={223} y={734} w={77} />

      {/* footer */}
      <g fontSize={10.5} fill={INK}>
        <text x={18} y={934} textLength={357} lengthAdjust="spacingAndGlyphs">Sources: Haver Analytics; Organization for Economic Cooperation and Development,</text>
        <text x={11.5} y={946} fontStyle="italic" textLength={78} lengthAdjust="spacingAndGlyphs">Economic Outlook;</text>
        <text x={93} y={946} textLength={110} lengthAdjust="spacingAndGlyphs">and IMF staff calculations.</text>
        <text x={23} y={957.5} fontSize={7}>1</text>
        <text x={26.5} y={962} textLength={319} lengthAdjust="spacingAndGlyphs">Estimates based on methodology described in Box 1.2 of the October 2008</text>
        <text x={349} y={962} fontStyle="italic" textLength={24} lengthAdjust="spacingAndGlyphs">World</text>
        <text x={12.5} y={974} fontStyle="italic" textLength={78} lengthAdjust="spacingAndGlyphs">Economic Outlook.</text>
      </g>
    </svg>
  );
}
